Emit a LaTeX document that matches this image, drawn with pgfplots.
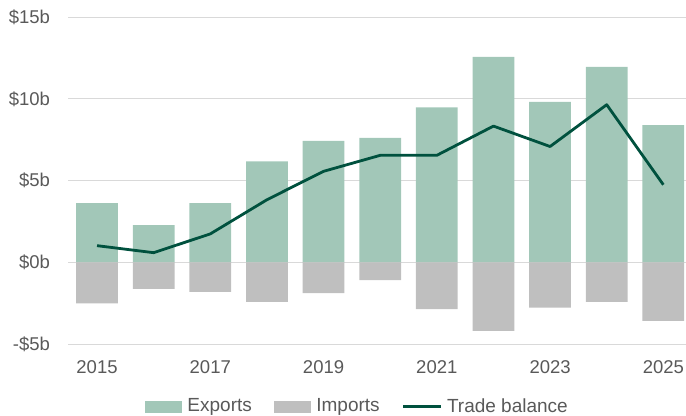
\documentclass[border=0pt]{standalone}
\usepackage{pgfplots}
\pgfplotsset{compat=1.18}
\usepackage{fontspec}
\setmainfont{Liberation Sans}
\definecolor{expc}{HTML}{A2C7B8}
\definecolor{impc}{HTML}{BFBFBF}
\definecolor{balc}{HTML}{00513E}
\definecolor{txtc}{HTML}{595959}
\definecolor{grdc}{HTML}{D9D9D9}
\begin{document}
\fontsize{18.5bp}{21bp}\selectfont
\begin{tikzpicture}
\begin{axis}[
  scale only axis, width=617.7bp, height=326.7bp,
  xmin=-0.507, xmax=10.4, ymin=-5, ymax=15,
  axis line style={draw=none}, major tick length=0pt,
  ymajorgrids, grid style={grdc, line width=1bp},
  xtick={0,2,4,6,8,10}, xticklabels={2015,2017,2019,2021,2023,2025},
  ytick={-5,0,5,10,15}, yticklabels={-\$5b,\$0b,\$5b,\$10b,\$15b},
  tick label style={font=\fontsize{18.5bp}{21bp}\selectfont, text=txtc},
  yticklabel style={xshift=-12bp},
  xticklabel style={yshift=-10bp},
  legend style={at={(0.468,-0.192)}, anchor=center, draw=none, fill=none,
    legend columns=3, font=\fontsize{19bp}{22bp}\selectfont, text=txtc,
    /tikz/every even column/.append style={column sep=20bp},
    legend cell align=left, inner sep=0pt},
  clip=false,
]
\addplot[ybar, bar width=0.737, bar shift=0pt, fill=expc, draw=none,
  legend image code/.code={\fill[expc] (0bp,-5.8bp) rectangle (37bp,5.8bp); \path (40.5bp,0bp);}]
  coordinates {(0,3.63) (1,2.27) (2,3.63) (3,6.18) (4,7.44) (5,7.62) (6,9.48) (7,12.58) (8,9.83) (9,11.96) (10,8.40)};
\addlegendentry{Exports}
\addplot[ybar, bar width=0.737, bar shift=0pt, fill=impc, draw=none,
  legend image code/.code={\fill[impc] (0bp,-5.8bp) rectangle (37bp,5.8bp); \path (40.5bp,0bp);}]
  coordinates {(0,-2.52) (1,-1.62) (2,-1.81) (3,-2.42) (4,-1.89) (5,-1.09) (6,-2.87) (7,-4.20) (8,-2.77) (9,-2.42) (10,-3.59)};
\addlegendentry{Imports}
\addplot[balc, line width=2.8bp, mark=none, line join=round,
  legend image code/.code={\draw[balc, line width=2.8bp] (0bp,0bp) -- (38bp,0bp); \path (40.5bp,0bp);}]
  coordinates {(0,1.02) (1,0.59) (2,1.74) (3,3.83) (4,5.57) (5,6.55) (6,6.55) (7,8.34) (8,7.09) (9,9.65) (10,4.75)};
\addlegendentry{Trade balance}
\end{axis}
\pgfresetboundingbox
\path (current axis.south west) ++(-68.3bp,-72bp) rectangle ++(686bp,416bp);
\end{tikzpicture}
\end{document}
